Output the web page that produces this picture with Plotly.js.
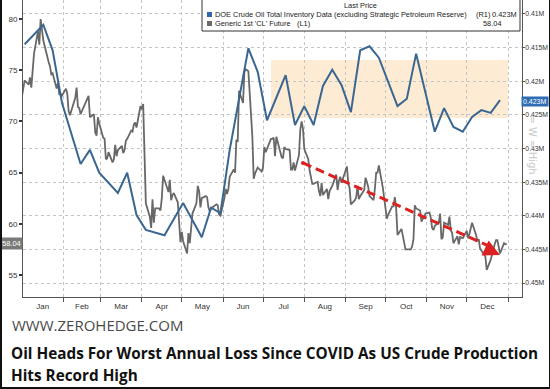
<!DOCTYPE html>
<html>
<head>
<meta charset="utf-8">
<script src="https://cdn.plot.ly/plotly-3.0.1.min.js"></script>
<style>
  html, body { margin: 0; padding: 0; background: #fff; }
  #wrap { position: relative; width: 550px; height: 389px; }
  #chart { position: absolute; left: 0; top: 0; width: 550px; height: 389px; }
  #frame { position: absolute; left: 0; top: 0; width: 550px; height: 389px; box-sizing: border-box;
           border-left: 2px solid #111; border-right: 1px solid #111; border-bottom: 2px solid #111; pointer-events: none; }
</style>
</head>
<body>
<div id="wrap"><div id="chart"></div><div id="frame"></div></div>
<script>
// ---------------- DATA ----------------
// Generic 1st 'CL' Future (left axis, USD/bbl), daily closes
const clDates = [
 "2024-12-31","2025-01-02","2025-01-03","2025-01-06","2025-01-07","2025-01-08","2025-01-10","2025-01-13","2025-01-14","2025-01-15",
 "2025-01-16","2025-01-17","2025-01-21","2025-01-22","2025-01-23","2025-01-24","2025-01-27","2025-01-28","2025-01-29","2025-01-30",
 "2025-01-31","2025-02-03","2025-02-04","2025-02-05","2025-02-06","2025-02-07","2025-02-10","2025-02-11","2025-02-12","2025-02-13",
 "2025-02-14","2025-02-18","2025-02-19","2025-02-20","2025-02-21","2025-02-24","2025-02-25","2025-02-26","2025-02-27","2025-02-28",
 "2025-03-03","2025-03-04","2025-03-05","2025-03-06","2025-03-07","2025-03-10","2025-03-11","2025-03-12","2025-03-13","2025-03-14",
 "2025-03-17","2025-03-18","2025-03-19","2025-03-20","2025-03-21","2025-03-24","2025-03-25","2025-03-26","2025-03-27","2025-03-28",
 "2025-03-31","2025-04-01","2025-04-02","2025-04-03","2025-04-04","2025-04-07","2025-04-08","2025-04-09","2025-04-10","2025-04-11",
 "2025-04-14","2025-04-15","2025-04-16","2025-04-17","2025-04-21","2025-04-22","2025-04-23","2025-04-24","2025-04-25","2025-04-28",
 "2025-04-29","2025-04-30","2025-05-01","2025-05-02","2025-05-05","2025-05-06","2025-05-07","2025-05-08","2025-05-09","2025-05-12",
 "2025-05-13","2025-05-14","2025-05-15","2025-05-16","2025-05-19","2025-05-20","2025-05-21","2025-05-22","2025-05-23","2025-05-27",
 "2025-05-28","2025-05-29","2025-05-30","2025-06-02","2025-06-03","2025-06-04","2025-06-05","2025-06-06","2025-06-09","2025-06-10",
 "2025-06-11","2025-06-12","2025-06-13","2025-06-16","2025-06-17","2025-06-18","2025-06-20","2025-06-23","2025-06-24","2025-06-25",
 "2025-06-26","2025-06-27","2025-06-30","2025-07-01","2025-07-02","2025-07-03","2025-07-07","2025-07-08","2025-07-09","2025-07-10",
 "2025-07-11","2025-07-14","2025-07-15","2025-07-16","2025-07-17","2025-07-18","2025-07-21","2025-07-22","2025-07-23","2025-07-24",
 "2025-07-25","2025-07-28","2025-07-29","2025-07-30","2025-07-31","2025-08-01","2025-08-04","2025-08-05","2025-08-06","2025-08-07",
 "2025-08-08","2025-08-11","2025-08-12","2025-08-13","2025-08-14","2025-08-15","2025-08-18","2025-08-19","2025-08-20","2025-08-21",
 "2025-08-22","2025-08-25","2025-08-26","2025-08-27","2025-08-28","2025-08-29","2025-09-02","2025-09-03","2025-09-04","2025-09-05",
 "2025-09-08","2025-09-09","2025-09-10","2025-09-11","2025-09-12","2025-09-15","2025-09-16","2025-09-17","2025-09-18","2025-09-19",
 "2025-09-22","2025-09-23","2025-09-24","2025-09-25","2025-09-26","2025-09-29","2025-09-30","2025-10-01","2025-10-02","2025-10-03",
 "2025-10-06","2025-10-07","2025-10-08","2025-10-09","2025-10-10","2025-10-13","2025-10-14","2025-10-15","2025-10-16","2025-10-17",
 "2025-10-20","2025-10-21","2025-10-22","2025-10-23","2025-10-24","2025-10-27","2025-10-28","2025-10-29","2025-10-30","2025-10-31",
 "2025-11-03","2025-11-04","2025-11-05","2025-11-06","2025-11-07","2025-11-10","2025-11-11","2025-11-12","2025-11-13","2025-11-14",
 "2025-11-17","2025-11-18","2025-11-19","2025-11-20","2025-11-21","2025-11-24","2025-11-25","2025-11-26","2025-11-28","2025-12-01",
 "2025-12-02","2025-12-03","2025-12-04","2025-12-05","2025-12-08","2025-12-09","2025-12-10","2025-12-11","2025-12-12","2025-12-15",
 "2025-12-16","2025-12-17","2025-12-18","2025-12-19","2025-12-22","2025-12-23","2025-12-24","2025-12-26","2025-12-29","2025-12-30",
 "2025-12-31"
];
const clValues = [
 71.7,73.1,74.0,73.6,74.3,73.3,76.6,78.8,77.5,80.0,
 78.7,77.9,75.8,75.4,74.6,74.7,73.2,73.8,72.6,72.7,
 72.5,73.2,72.7,71.0,70.6,71.0,72.3,73.3,71.4,71.3,
 70.7,71.9,72.3,72.5,70.4,70.7,68.9,68.6,70.4,69.8,
 68.4,68.3,66.3,66.4,67.0,66.0,66.3,67.7,66.6,67.2,
 67.6,66.9,67.2,68.1,68.3,69.1,69.0,69.7,69.9,69.4,
 71.5,71.2,71.7,67.0,62.0,60.7,59.6,62.4,60.1,61.5,
 61.5,61.3,62.5,64.7,63.1,64.3,62.3,62.8,63.0,62.1,
 60.4,58.2,59.2,58.3,57.1,59.1,58.1,59.9,61.0,62.0,
 63.7,63.2,61.6,62.5,62.7,62.6,61.6,61.2,61.5,61.9,
 61.8,60.9,60.8,62.5,63.4,62.9,63.4,64.6,65.3,65.0,
 68.2,68.0,73.0,71.8,74.8,75.1,74.9,68.5,64.4,64.9,
 65.2,65.5,65.1,65.5,67.5,67.0,68.3,68.3,68.4,66.6,
 68.5,67.0,66.5,66.4,67.5,67.3,67.2,65.3,65.3,66.0,
 65.2,66.7,69.2,70.0,69.3,67.3,66.3,65.2,64.4,63.9,
 63.9,64.1,63.2,62.7,64.0,62.8,63.4,62.4,63.2,63.5,
 63.7,64.8,63.3,64.2,64.6,64.0,65.6,64.0,63.5,61.9,
 62.3,62.6,63.7,62.4,62.7,63.3,64.5,64.1,63.6,62.7,
 62.3,63.4,65.0,65.0,65.7,63.5,62.4,61.8,60.5,60.9,
 61.7,61.7,62.6,61.5,58.9,59.5,58.7,58.3,57.5,57.5,
 57.5,57.8,58.5,61.8,61.5,61.3,60.2,60.5,60.6,61.0,
 61.1,60.6,59.6,59.4,59.8,60.1,61.0,58.5,58.7,60.1,
 59.9,60.7,59.4,59.1,58.1,58.8,58.0,58.7,58.6,59.3,
 58.6,59.0,59.7,60.1,58.9,58.3,58.5,57.6,57.4,56.8,
 55.5,55.9,56.2,56.5,58.0,58.4,58.4,57.1,58.1,58.0,
 58.04
];

// DOE Crude Oil Total Inventory (ex-SPR), weekly, right axis (inverted)
const doeDates = [
 "2025-01-03","2025-01-17","2025-01-24","2025-01-31","2025-02-14","2025-02-21","2025-02-28","2025-03-07","2025-03-14","2025-03-21",
 "2025-03-28","2025-04-04","2025-04-18","2025-05-02","2025-05-16","2025-05-23","2025-05-30","2025-06-06","2025-06-13","2025-06-20",
 "2025-06-27","2025-07-04","2025-07-18","2025-07-25","2025-08-01","2025-08-08","2025-08-15","2025-08-22","2025-08-29","2025-09-05",
 "2025-09-12","2025-09-19","2025-09-26","2025-10-10","2025-10-17","2025-10-24","2025-11-07","2025-11-14","2025-11-21","2025-11-28",
 "2025-12-05","2025-12-12","2025-12-19","2025-12-26"
];
const doeValues = [
 0.4145,0.4116,0.4154,0.4232,0.4323,0.4302,0.4336,0.4351,0.4366,0.4336,
 0.4399,0.4421,0.4429,0.4381,0.4432,0.4388,0.4396,0.4302,0.4228,0.4151,
 0.4186,0.4258,0.4191,0.4265,0.4237,0.4265,0.4207,0.4183,0.4206,0.4246,
 0.4154,0.4148,0.4165,0.4237,0.4226,0.4159,0.4275,0.4240,0.4268,0.4275,
 0.4253,0.4243,0.4247,0.4228
];

const leftTicks = [55, 60, 65, 70, 75, 80];
const rightTicks = [0.41, 0.415, 0.42, 0.425, 0.43, 0.435, 0.44, 0.445, 0.45];
const rightTickText = ["0.41M","0.415M","0.42M","0.425M","0.43M","0.435M","0.44M","0.445M","0.45M"];
const seriesNames = ["DOE Crude Oil Total Inventory Data (excluding Strategic Petroleum Reserve)", "Generic 1st 'CL' Future"];
const lastPrices = ["0.423M", "58.04"];

// ---------------- LAYOUT HELPERS ----------------
const W = 550, H = 389, ML = 23, MR = 28, MT = 0, MB = 92;
const PW = W - ML - MR, PH = H - MT - MB;
const px = v => (v - ML) / PW;          // page pixel -> paper x
const py = v => (H - MB - v) / PH;       // page pixel -> paper y

const traces = [
  { x: doeDates, y: doeValues, yaxis: 'y2', type: 'scatter', mode: 'lines',
    line: { color: '#3a6791', width: 2 }, name: seriesNames[0], hoverinfo: 'skip' },
  { x: clDates, y: clValues, yaxis: 'y', type: 'scatter', mode: 'lines',
    line: { color: '#686868', width: 1.8 }, name: seriesNames[1], hoverinfo: 'skip' }
];

const tickFont = { family: 'Liberation Sans, Arial, sans-serif', size: 8, color: '#333' };
const rtickFont = { family: 'Liberation Sans, Arial, sans-serif', size: 6.8, color: '#333' };
const legFont = { family: 'Liberation Sans, Arial, sans-serif', size: 7.4, color: '#222' };

const layout = {
  width: W, height: H,
  margin: { l: ML, r: MR, t: MT, b: MB, pad: 0 },
  paper_bgcolor: '#fff', plot_bgcolor: '#fff',
  showlegend: false,
  xaxis: {
    type: 'date', range: ['2025-01-01 18:00', '2026-01-11 12:00'],
    tick0: '2025-01-01', dtick: 'M1', ticklabelmode: 'period', tickformat: '%b',
    ticks: 'outside', ticklen: 4, tickcolor: '#555', tickfont: tickFont, ticklabelstandoff: -3,
    showgrid: true, gridcolor: '#c4c4c4', griddash: 'dot', gridwidth: 1,
    showline: true, linecolor: '#555', linewidth: 1, zeroline: false, fixedrange: true
  },
  yaxis: {
    range: [52.85, 81.855], tickvals: leftTicks, ticktext: leftTicks.map(String),
    ticks: 'outside', ticklen: 3, tickcolor: '#333', tickwidth: 2, tickfont: tickFont,
    showgrid: false, showline: true, linecolor: '#555', linewidth: 1, zeroline: false, fixedrange: true
  },
  yaxis2: {
    overlaying: 'y', side: 'right', range: [0.45208, 0.40792],
    tickvals: rightTicks, ticktext: rightTickText,
    ticks: 'outside', ticklen: 2, tickcolor: '#555', tickfont: rtickFont, ticklabelstandoff: -1,
    showgrid: true, gridcolor: '#c4c4c4', griddash: 'dot', gridwidth: 1,
    showline: true, linecolor: '#555', linewidth: 1, zeroline: false, fixedrange: true
  },
  shapes: [
    // highlighted range
    { type: 'rect', xref: 'x', yref: 'y2', x0: '2025-07-07', x1: '2026-01-01', y0: 0.41684, y1: 0.42547,
      fillcolor: '#fdebd3', line: { width: 0 }, layer: 'below' },
    // red dashed trend line
    { type: 'line', xref: 'x', yref: 'y', x0: '2025-07-31', y0: 65.94, x1: '2025-12-19', y1: 57.75,
      line: { color: '#dd2020', width: 3, dash: '9px,5px' }, layer: 'above' },
    { type: 'circle', xref: 'x', yref: 'y', x0: '2025-07-29 12:00', x1: '2025-08-01 12:00', y0: 65.75, y1: 66.13,
      fillcolor: '#dd2020', line: { width: 0 }, layer: 'above' },
    // legend box
    { type: 'rect', xref: 'paper', yref: 'paper', x0: px(202), x1: px(520), y0: py(31), y1: py(-1),
      fillcolor: '#fff', line: { color: '#333', width: 1 }, layer: 'above' },
    { type: 'rect', xref: 'paper', yref: 'paper', x0: px(207), x1: px(212), y0: py(17), y1: py(12),
      fillcolor: '#2f67b0', line: { width: 0 }, layer: 'above' },
    { type: 'rect', xref: 'paper', yref: 'paper', x0: px(207), x1: px(212), y0: py(26), y1: py(21),
      fillcolor: '#6a6a6a', line: { width: 0 }, layer: 'above' }
  ],
  annotations: [
    // arrow head
    { xref: 'x', yref: 'y', axref: 'x', ayref: 'y', x: '2025-12-26', y: 56.95, ax: '2025-12-17 19:00', ay: 57.45,
      text: '', showarrow: true, arrowhead: 2, arrowsize: 1.1, arrowwidth: 3, arrowcolor: '#dd2020' },
    // legend text
    { xref: 'paper', yref: 'paper', x: px(360), y: py(5), text: 'Last Price', showarrow: false, xanchor: 'center', yanchor: 'middle', font: legFont },
    { xref: 'paper', yref: 'paper', x: px(213), y: py(14.5), text: seriesNames[0], showarrow: false, xanchor: 'left', yanchor: 'middle', font: legFont },
    { xref: 'paper', yref: 'paper', x: px(474), y: py(14.5), text: '(R1)', showarrow: false, xanchor: 'left', yanchor: 'middle', font: legFont },
    { xref: 'paper', yref: 'paper', x: px(519), y: py(14.5), text: lastPrices[0], showarrow: false, xanchor: 'right', yanchor: 'middle', font: legFont },
    { xref: 'paper', yref: 'paper', x: px(213), y: py(23.5), text: seriesNames[1], showarrow: false, xanchor: 'left', yanchor: 'middle', font: legFont },
    { xref: 'paper', yref: 'paper', x: px(295), y: py(23.5), text: '(L1)', showarrow: false, xanchor: 'left', yanchor: 'middle', font: legFont },
    { xref: 'paper', yref: 'paper', x: px(504), y: py(23.5), text: lastPrices[1], showarrow: false, xanchor: 'right', yanchor: 'middle', font: legFont },
    // last price tags
    { xref: 'paper', yref: 'y', x: px(11), y: 58.04, text: lastPrices[1], showarrow: false, xanchor: 'center', yanchor: 'middle',
      bgcolor: '#7a7a7a', borderpad: 1, font: { family: 'Liberation Sans, Arial, sans-serif', size: 7.5, color: '#fff' } },
    { xref: 'paper', yref: 'y2', x: px(535), y: 0.423, text: lastPrices[0], showarrow: false, xanchor: 'center', yanchor: 'middle',
      bgcolor: '#2f6db5', borderpad: 1, font: { family: 'Liberation Sans, Arial, sans-serif', size: 7, color: '#fff' } },
    // watermark
    { xref: 'paper', yref: 'paper', x: px(540), y: py(145), text: '= W = High', textangle: 90, showarrow: false,
      font: { family: 'DejaVu Sans, sans-serif', size: 10, color: '#c8c8c8' } },
    // footer texts
    { xref: 'paper', yref: 'paper', x: px(10), y: py(325), text: 'WWW.ZEROHEDGE.COM', showarrow: false, xanchor: 'left', yanchor: 'middle',
      font: { family: 'Open Sans, sans-serif', size: 15, color: '#4a4a4a' } },
    { xref: 'paper', yref: 'paper', x: px(9), y: py(353), text: '<b>Oil Heads For Worst Annual Loss Since COVID As US Crude Production</b>', showarrow: false,
      xanchor: 'left', yanchor: 'middle', font: { family: 'Open Sans, sans-serif', size: 15.3, color: '#111' } },
    { xref: 'paper', yref: 'paper', x: px(9), y: py(375), text: '<b>Hits Record High</b>', showarrow: false,
      xanchor: 'left', yanchor: 'middle', font: { family: 'Open Sans, sans-serif', size: 15.3, color: '#111' } }
  ]
};

Plotly.newPlot('chart', traces, layout, { staticPlot: true, displayModeBar: false });
</script>
</body>
</html>
